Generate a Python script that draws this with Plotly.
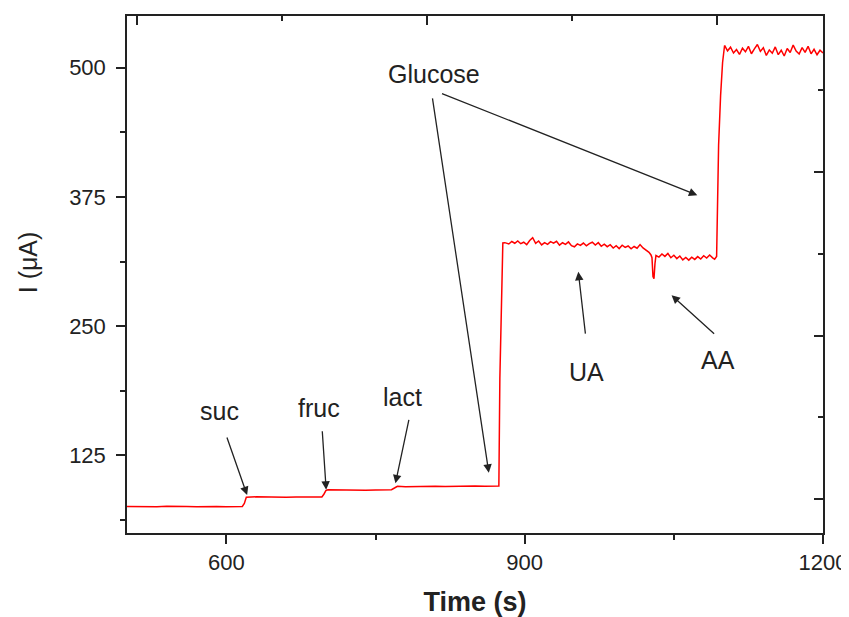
import plotly.graph_objects as go

# ---- data ----
time_s = [500, 510, 520, 530, 540, 550, 560, 570, 580, 590, 600, 610, 616,
          618, 620, 630, 640, 650, 660, 670, 680, 690, 696,
          698, 700, 702, 710, 720, 730, 740, 750, 760, 766,
          769, 772, 780, 790, 800, 810, 820, 830, 840, 850, 860, 870, 874,
          875, 877, 878,
          880, 884, 887, 890, 893, 896, 899, 902, 905, 908, 911, 914, 917, 920,
          923, 926, 929, 932, 935, 938, 941, 944, 947, 950, 953, 956, 959, 962,
          965, 968, 971, 974, 977, 980, 983, 986, 989, 992, 995, 998, 1001,
          1004, 1007, 1010, 1013, 1016, 1019, 1022, 1025, 1027, 1028, 1029,
          1030, 1031, 1032, 1035, 1038, 1041, 1044, 1047, 1050, 1053, 1056,
          1059, 1062, 1065, 1068, 1071, 1074, 1077, 1080, 1083, 1086, 1089,
          1091, 1093,
          1094, 1095, 1097, 1099, 1101,
          1104, 1107, 1110, 1113, 1116, 1119, 1122, 1125, 1128, 1131, 1134,
          1137, 1140, 1143, 1146, 1149, 1152, 1155, 1158, 1161, 1164, 1167,
          1170, 1173, 1176, 1179, 1182, 1185, 1188, 1191, 1194, 1197, 1200]

current_uA = [75.6, 75.4, 75.9, 75.5, 75.8, 75.4, 75.7, 75.5, 75.9, 75.6, 75.4, 75.7, 75.6,
              78.5, 84.6, 85.0, 84.6, 84.9, 84.5, 84.8, 85.1, 84.7, 84.9,
              87.5, 91.0, 91.8, 91.6, 91.4, 91.8, 91.3, 91.6, 91.5, 91.9,
              93.5, 95.2, 94.8, 95.1, 94.9, 95.3, 95.0, 95.4, 95.2, 95.5, 95.3, 95.6, 95.5,
              200.0, 285.0, 330.5,
              330.8, 329.5, 331.9, 330.2, 332.5, 329.8, 331.2, 328.9, 332.8, 335.6, 330.1, 332.4, 328.6, 330.9,
              329.2, 331.8, 330.3, 332.1, 328.4, 330.7, 329.1, 331.5, 327.9, 326.8, 329.6, 328.2, 330.4, 327.7,
              329.9, 331.2, 328.5, 330.8, 327.3, 329.4, 326.9, 328.8, 325.6, 327.9, 325.1, 328.3, 326.2,
              327.6, 324.8, 327.1, 325.4, 328.9, 325.7, 323.8, 321.5, 318.9, 316.2, 298.0,
              296.0, 310.5, 318.4, 316.8, 319.9, 317.5, 320.3, 316.2, 318.6, 315.4, 317.9,
              314.1, 316.5, 313.9, 316.8, 314.6, 317.3, 315.0, 318.2, 315.9, 318.8, 316.1,
              314.8, 317.5,
              360.0, 425.0, 473.0, 505.0, 521.5,
              516.3, 519.8, 514.2, 517.5, 512.8, 518.9, 515.4, 520.6, 513.5, 518.2, 522.4,
              515.8, 519.3, 511.9, 517.2, 514.0, 520.1, 512.6, 516.9, 511.3, 518.5, 514.7,
              521.9, 516.0, 513.2, 519.4, 514.8, 520.7, 513.4, 517.8, 512.5, 516.9, 514.3]

x_range = [500, 1200]
y_range = [50, 550]
x_ticks = [600, 900, 1200]
y_ticks = [125, 250, 375, 500]

# labels: (text, time, current)
labels = [("suc", 592.7, 167.9), ("fruc", 693.6, 171.1), ("lact", 777.1, 181.7),
          ("Glucose", 808.6, 493.7), ("UA", 961.7, 205.9), ("AA", 1094.5, 217.7)]
# arrows: (tail time, tail current, head time, head current)
arrows = [(600.0, 143.8, 620.8, 86.7),
          (696.3, 149.9, 700.3, 91.9),
          (783.8, 160.9, 770.0, 98.0),
          (807.0, 471.7, 863.9, 108.3),
          (815.3, 475.6, 1073.6, 376.7),
          (961.2, 241.4, 953.9, 302.6),
          (1092.0, 241.4, 1047.7, 280.0)]

# top / right frame ticks (fractions of the frame)
top_major = [0.015, 0.431, 0.847]
top_minor = [0.223, 0.639]
right_major = [0.065, 0.382, 0.699]
right_minor = [0.2235, 0.540, 0.857]

FONT = "Liberation Sans, Arial, sans-serif"
INK = "#222222"

fig = go.Figure()
fig.add_trace(go.Scatter(x=time_s, y=current_uA, mode="lines",
                         line=dict(color="#ff0000", width=1.5),
                         showlegend=False, hoverinfo="skip"))
fig.add_trace(go.Scatter(x=[0.5], y=[0.5], xaxis="x2", yaxis="y2", mode="markers",
                         marker=dict(opacity=0), showlegend=False, hoverinfo="skip"))

annotations = []
for text, tx, ty in labels:
    annotations.append(dict(x=tx, y=ty, xref="x", yref="y", text=text, showarrow=False,
                            font=dict(family=FONT, size=25, color=INK),
                            xanchor="center", yanchor="middle"))
for ax_, ay_, hx, hy in arrows:
    annotations.append(dict(x=hx, y=hy, ax=ax_, ay=ay_, xref="x", yref="y",
                            axref="x", ayref="y", text="", showarrow=True,
                            arrowhead=2, arrowsize=1.3, arrowwidth=1.3,
                            arrowcolor=INK, standoff=0, startstandoff=0))
# y-axis title (sits slightly above the frame centre in the reference)
annotations.append(dict(x=-0.142, y=0.524, xref="paper", yref="paper", text="I (μA)",
                        textangle=-90, showarrow=False, xanchor="center", yanchor="middle",
                        font=dict(family=FONT, size=25, color=INK)))

# the page body adds an 8 px margin, so the figure is 841x609 at offset (8, 8)
fig.update_layout(
    width=841, height=609,
    margin=dict(l=119, r=26, t=8, b=84, autoexpand=False),
    paper_bgcolor="white", plot_bgcolor="white",
    font=dict(family=FONT, color=INK),
    xaxis=dict(range=x_range, tickvals=x_ticks, ticks="outside", ticklen=9,
               tickwidth=1.5, tickcolor=INK, showline=True, linecolor=INK,
               linewidth=1.5, showgrid=False, zeroline=False, automargin=False,
               tickfont=dict(size=22, family=FONT, color=INK),
               minor=dict(tickvals=[750, 1050], ticks="outside", ticklen=5,
                          tickwidth=1.5, tickcolor=INK, showgrid=False),
               title=dict(text="<b>Time (s)</b>", font=dict(size=27, family=FONT, color=INK),
                          standoff=21)),
    yaxis=dict(range=y_range, tickvals=y_ticks, ticks="outside", ticklen=9,
               tickwidth=1.5, tickcolor=INK, showline=True, linecolor=INK,
               linewidth=1.5, showgrid=False, zeroline=False, automargin=False,
               ticklabelstandoff=6,
               tickfont=dict(size=22, family=FONT, color=INK),
               minor=dict(tickvals=[62.5, 187.5, 312.5, 437.5], ticks="outside",
                          ticklen=5, tickwidth=1.5, tickcolor=INK, showgrid=False)),
    xaxis2=dict(overlaying="x", side="top", anchor="y2", range=[0, 1],
                tickvals=top_major, ticks="inside", ticklen=9, tickwidth=1.5,
                tickcolor=INK, showline=True, linecolor=INK, linewidth=1.5,
                showticklabels=False, showgrid=False, zeroline=False, automargin=False,
                minor=dict(tickvals=top_minor, ticks="inside", ticklen=5,
                           tickwidth=1.5, tickcolor=INK, showgrid=False)),
    yaxis2=dict(overlaying="y", side="right", anchor="x2", range=[0, 1],
                tickvals=right_major, ticks="inside", ticklen=9, tickwidth=1.5,
                tickcolor=INK, showline=True, linecolor=INK, linewidth=1.5,
                showticklabels=False, showgrid=False, zeroline=False, automargin=False,
                minor=dict(tickvals=right_minor, ticks="inside", ticklen=5,
                           tickwidth=1.5, tickcolor=INK, showgrid=False)),
    annotations=annotations,
)

fig.write_html("out.html")
